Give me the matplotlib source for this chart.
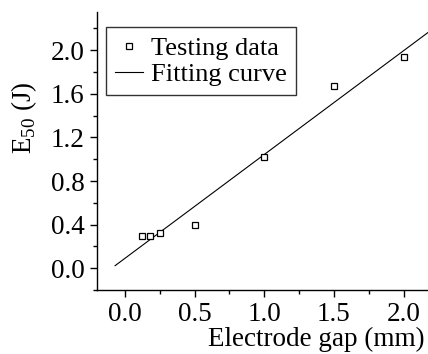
import numpy as np
import matplotlib.pyplot as plt
from matplotlib.ticker import MultipleLocator

plt.rcParams['font.family'] = ['Liberation Serif', 'DejaVu Serif']
plt.rcParams['mathtext.fontset'] = 'custom'
plt.rcParams['mathtext.rm'] = 'Liberation Serif'

# data
gap = [0.12, 0.18, 0.25, 0.5, 1.0, 1.5, 2.0]
e50 = [0.30, 0.30, 0.32, 0.40, 1.02, 1.67, 1.94]

# linear fit: y = a + b*x
fit_a = 0.09
fit_b = 0.953
fit_x = np.array([-0.07, 2.25])
fit_y = fit_a + fit_b * fit_x

fig = plt.figure(figsize=(4.28, 3.54), dpi=100)
ax = fig.add_axes([0.2266, 0.1808, 0.775, 0.785])

ax.plot(gap, e50, 's', ms=5, mfc='white', mec='black', mew=0.9,
        label='Testing data', zorder=3)
ax.plot(fit_x, fit_y, '-', color='black', lw=0.8, label='Fitting curve')

ax.set_xlim(-0.2, 2.18)
ax.set_ylim(-0.2, 2.35)
ax.xaxis.set_major_locator(MultipleLocator(0.5))
ax.xaxis.set_minor_locator(MultipleLocator(0.25))
ax.yaxis.set_major_locator(MultipleLocator(0.4))
ax.yaxis.set_minor_locator(MultipleLocator(0.2))
ax.xaxis.set_major_formatter('{x:.1f}')
ax.yaxis.set_major_formatter('{x:.1f}')

for s in ['top', 'right']:
    ax.spines[s].set_visible(False)
for s in ['left', 'bottom']:
    ax.spines[s].set_linewidth(1.0)

ax.tick_params(which='major', direction='out', length=5, width=1,
               labelsize=19.5)
ax.tick_params(axis='x', which='major', pad=4)
ax.tick_params(axis='y', which='major', pad=4)
ax.tick_params(which='minor', direction='out', length=3, width=1)

xl = ax.set_xlabel('Electrode gap (mm)', fontsize=19.5)
xl.set_va('baseline')
ax.xaxis.set_label_coords(0.66, -0.203)
ax.set_ylabel('E$_{50}$ (J)', fontsize=19.5)
ax.yaxis.set_label_coords(-0.175, 0.62)

leg = ax.legend(loc='upper left', bbox_to_anchor=(0.027, 0.946), fontsize=19,
                frameon=True, fancybox=False, edgecolor='black',
                handlelength=1.05, handletextpad=0.3, borderpad=0.35,
                labelspacing=0.1, borderaxespad=0)
leg.get_frame().set_linewidth(1.0)

fig.savefig('out.png', dpi=100)
